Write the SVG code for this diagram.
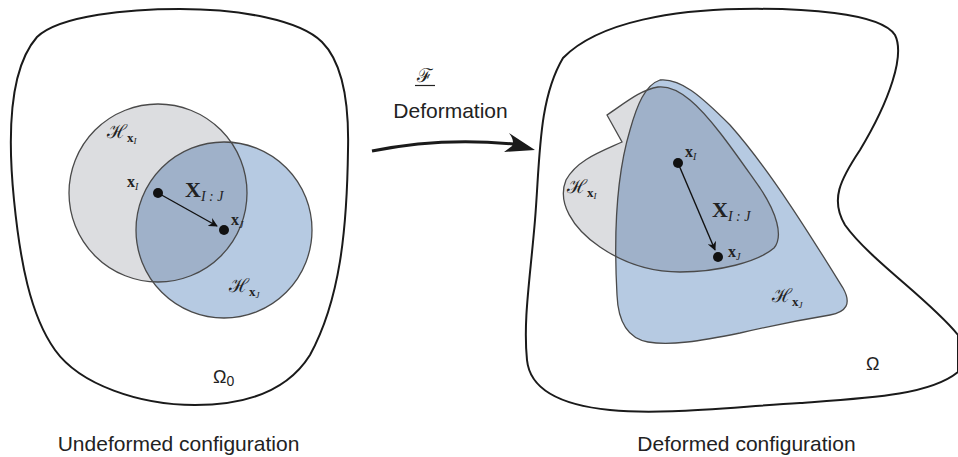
<svg xmlns="http://www.w3.org/2000/svg" width="958" height="457" viewBox="0 0 958 457">
<style>
.bound{fill:none;stroke:#1a1a1a;stroke-width:2}
.gray{fill:#dcdde0}
.blue{fill:#b6cae2}
.over{fill:#9fb1c9}
.edge{fill:none;stroke:#4a4a4a;stroke-width:1.3}
.vec{stroke:#111;stroke-width:1.4;fill:none}
.dot{fill:#111}
.m{font-family:"Liberation Serif","DejaVu Serif",serif;fill:#222}
.s{font-family:"Liberation Sans",Arial,sans-serif;fill:#222}
.cal{font-family:"DejaVu Serif","Liberation Serif",serif;fill:#222}
</style>
<defs>
<marker id="ah" viewBox="0 0 10 10" refX="9" refY="5" markerWidth="9" markerHeight="9" markerUnits="userSpaceOnUse" orient="auto">
<path d="M0,0 L10,5 L0,10 L3,5 Z" fill="#111"/>
</marker>
<path id="gR" d="M607,115 L622,142 C600,152 577,160 566,180 C557,202 572,228 600,247 C622,262 648,272 680,272 C718,272 758,262 774,248 C784,236 776,212 760,188 C740,160 712,118 690,100 C678,90 668,86 658,87 C640,90 625,103 607,115 Z"/>
<path id="bR" d="M660,80 C680,78 700,95 730,125 C770,170 812,238 843,288 C852,304 846,312 830,315 C800,320 770,326 740,333 C700,341 670,346 648,342 C626,338 618,320 617,295 C614,240 615,180 630,130 C637,105 645,85 660,80 Z"/>
<clipPath id="cgL"><circle cx="158" cy="193" r="89"/></clipPath>
<clipPath id="cgR"><use href="#gR"/></clipPath>
</defs>

<g id="undeformed">
<path class="bound" d="M37,37 C60,15 130,9 180,9 C240,9 300,20 322,42 C345,65 349,110 348,150 C347,230 340,300 310,355 C285,395 240,405 195,405 C140,405 80,385 55,350 C30,315 20,260 14,200 C8,140 8,70 37,37 Z"/>
<circle class="gray" cx="158" cy="193" r="89"/>
<circle class="blue" cx="224" cy="230" r="88"/>
<circle class="over" cx="224" cy="230" r="88" clip-path="url(#cgL)"/>
<circle class="edge" cx="158" cy="193" r="89"/>
<circle class="edge" cx="224" cy="230" r="88"/>
<text class="cal" x="107" y="138" font-size="19">ℋ<tspan font-family="Liberation Serif" font-weight="bold" font-size="13" dy="4">x</tspan><tspan font-family="Liberation Serif" font-style="italic" font-size="9" dy="2">I</tspan></text>
<text class="m" x="127" y="187" font-size="16" font-weight="bold">x<tspan font-weight="normal" font-style="italic" font-size="10" dy="3">I</tspan></text>
<text class="m" x="185" y="197" font-size="22" font-weight="bold">X<tspan font-weight="normal" font-style="italic" font-size="14" dy="4">I : J</tspan></text>
<text class="m" x="231" y="225" font-size="16" font-weight="bold">x<tspan font-weight="normal" font-style="italic" font-size="10" dy="3">J</tspan></text>
<text class="cal" x="229" y="292" font-size="19">ℋ<tspan font-family="Liberation Serif" font-weight="bold" font-size="13" dy="4">x</tspan><tspan font-family="Liberation Serif" font-style="italic" font-size="9" dy="2">J</tspan></text>
<text class="s" x="213" y="383" font-size="18">Ω<tspan font-size="14" dy="3">0</tspan></text>
<text class="s" x="178.5" y="451" font-size="21" text-anchor="middle">Undeformed configuration</text>
</g>

<g id="deformed">
<path class="bound" d="M563,58 C600,20 680,10 740,9 C800,8 880,12 895,35 C905,55 890,100 860,150 C840,180 830,200 845,225 C870,260 930,300 958,335 L958,372 C930,395 870,398 800,403 C720,408 660,415 610,410 C560,405 530,390 527,360 C523,320 530,280 535,220 C540,160 538,100 563,58 Z"/>
<use href="#gR" class="gray"/>
<use href="#bR" class="blue"/>
<use href="#bR" class="over" clip-path="url(#cgR)"/>
<use href="#gR" class="edge"/>
<use href="#bR" class="edge"/>
<text class="cal" x="567" y="193" font-size="19">ℋ<tspan font-family="Liberation Serif" font-weight="bold" font-size="13" dy="4">x</tspan><tspan font-family="Liberation Serif" font-style="italic" font-size="9" dy="2">I</tspan></text>
<text class="m" x="685" y="157" font-size="16" font-weight="bold">x<tspan font-weight="normal" font-style="italic" font-size="10" dy="3">I</tspan></text>
<text class="m" x="712" y="217" font-size="22" font-weight="bold">X<tspan font-weight="normal" font-style="italic" font-size="14" dy="4">I : J</tspan></text>
<text class="m" x="728" y="257" font-size="16" font-weight="bold">x<tspan font-weight="normal" font-style="italic" font-size="10" dy="3">J</tspan></text>
<text class="cal" x="772" y="302" font-size="19">ℋ<tspan font-family="Liberation Serif" font-weight="bold" font-size="13" dy="4">x</tspan><tspan font-family="Liberation Serif" font-style="italic" font-size="9" dy="2">J</tspan></text>
<text class="s" x="866" y="370" font-size="18">Ω</text>
<text class="s" x="746.5" y="451" font-size="21" text-anchor="middle">Deformed configuration</text>
</g>

<g id="connectors">
<line class="vec" x1="158" y1="193" x2="217" y2="226" marker-end="url(#ah)"/>
<circle class="dot" cx="158" cy="193" r="5"/>
<circle class="dot" cx="224" cy="230" r="5"/>
<line class="vec" x1="678" y1="163" x2="715" y2="250" marker-end="url(#ah)"/>
<circle class="dot" cx="678" cy="163" r="5"/>
<circle class="dot" cx="718" cy="257" r="5"/>
<path d="M372,151 Q440,137 514,144" fill="none" stroke="#1a1a1a" stroke-width="3"/>
<path d="M535,150 L509,133 Q515,141 512,146 L504,152 Z" fill="#1a1a1a"/>
</g>

<g id="mapping">
<text class="cal" x="425" y="82" font-size="19" text-anchor="middle">ℱ</text>
<line x1="415" y1="85.5" x2="435" y2="85.5" stroke="#222" stroke-width="1.2"/>
<text class="s" x="450.5" y="118" font-size="21" text-anchor="middle">Deformation</text>
</g>
</svg>
